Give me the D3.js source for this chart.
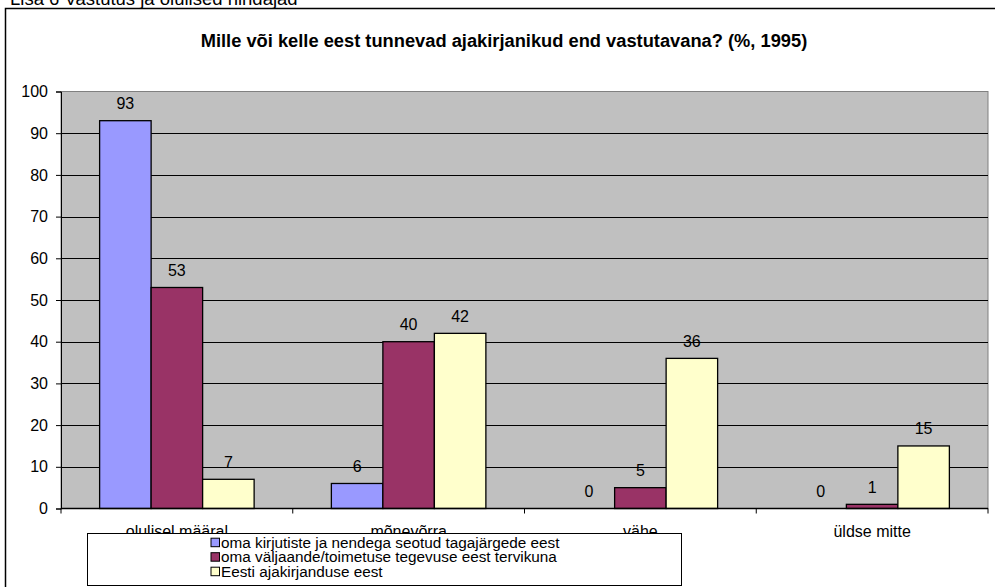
<!DOCTYPE html>
<html>
<head>
<meta charset="utf-8">
<script src="https://cdn.jsdelivr.net/npm/d3@7"></script>
<style>
  html, body { margin: 0; padding: 0; background: #fff; }
  svg { display: block; font-family: Arial, "Liberation Sans", sans-serif; }
</style>
</head>
<body>
<svg id="chart" width="995" height="587"></svg>
<script>
const pageNote = "Lisa 6  Vastutus ja olulised hindajad";
const title = "Mille või kelle eest tunnevad ajakirjanikud end vastutavana? (%, 1995)";
const categories = ["olulisel määral", "mõnevõrra", "vähe", "üldse mitte"];
const seriesNames = [
  "oma kirjutiste ja nendega seotud tagajärgede eest",
  "oma väljaande/toimetuse tegevuse eest tervikuna",
  "Eesti ajakirjanduse eest"
];
const seriesA = [93, 6, 0, 0];
const seriesB = [53, 40, 5, 1];
const seriesC = [7, 42, 36, 15];
const seriesColors = ["#9999FF", "#993366", "#FFFFCC"];
const yTicks = [0, 10, 20, 30, 40, 50, 60, 70, 80, 90, 100];

const seriesValues = [seriesA, seriesB, seriesC];
const svg = d3.select("#chart");
const FONT = "Arial, 'Liberation Sans', sans-serif";

// page note (clipped at top)
svg.append("text").attr("x", 10).attr("y", 5)
  .attr("font-size", 18.5).attr("fill", "#000").text(pageNote);

// outer chart frame
svg.append("rect").attr("x", 5.5).attr("y", 8.5).attr("width", 1000).attr("height", 600)
  .attr("fill", "#fff").attr("stroke", "#000").attr("stroke-width", 1.5);

// title
svg.append("text").attr("x", 504).attr("y", 46.5).attr("text-anchor", "middle")
  .attr("font-size", 18.3).attr("font-weight", "bold").text(title);

const plot = { left: 61, right: 988, top: 91.5, bottom: 508.5 };

const y = d3.scaleLinear().domain([0, 100]).range([plot.bottom, plot.top]);
const x = d3.scaleBand().domain(categories).range([plot.left, plot.right]).paddingInner(0).paddingOuter(0);
const xs = d3.scaleBand().domain(d3.range(seriesNames.length)).range([0, x.bandwidth()])
  .paddingInner(0).paddingOuter(0.75);

// plot area background
svg.append("rect").attr("x", plot.left).attr("y", plot.top)
  .attr("width", plot.right - plot.left).attr("height", plot.bottom - plot.top)
  .attr("fill", "#C0C0C0").attr("stroke", "#808080").attr("stroke-width", 1);

// gridlines
svg.append("g").selectAll("line").data(yTicks.filter(d => d > 0 && d < 100)).join("line")
  .attr("x1", plot.left).attr("x2", plot.right)
  .attr("y1", d => Math.round(y(d)) + 0.5).attr("y2", d => Math.round(y(d)) + 0.5)
  .attr("stroke", "#000").attr("stroke-width", 1);

// y axis
const yAxis = d3.axisLeft(y).tickValues(yTicks).tickSize(5).tickPadding(8);
const gy = svg.append("g").attr("transform", `translate(${plot.left},0)`).call(yAxis);
gy.select(".domain").attr("stroke", "#000");
gy.selectAll(".tick line").attr("stroke", "#000");
gy.selectAll("text").attr("font-size", 16).attr("fill", "#000").attr("font-family", FONT);

// bars
const groups = svg.append("g").selectAll("g").data(categories).join("g")
  .attr("transform", d => `translate(${x(d)},0)`);

seriesValues.forEach((vals, si) => {
  groups.each(function(cat, ci) {
    const v = vals[ci];
    const g = d3.select(this);
    if (v > 0) {
      g.append("rect")
        .attr("x", xs(si)).attr("y", y(v))
        .attr("width", xs.bandwidth()).attr("height", y(0) - y(v))
        .attr("fill", seriesColors[si]).attr("stroke", "#000").attr("stroke-width", 1.3);
    }
    g.append("text")
      .attr("x", xs(si) + xs.bandwidth() / 2).attr("y", y(v) - 11.5)
      .attr("text-anchor", "middle").attr("font-size", 16).attr("fill", "#000")
      .text(v);
  });
});

// x axis
const xTickPos = [plot.left].concat(categories.map(c => x(c) + x.bandwidth()));
svg.append("line").attr("x1", plot.left).attr("x2", plot.right)
  .attr("y1", plot.bottom).attr("y2", plot.bottom).attr("stroke", "#000").attr("stroke-width", 1.3);
svg.append("g").selectAll("line").data(xTickPos).join("line")
  .attr("x1", d => d).attr("x2", d => d)
  .attr("y1", plot.bottom).attr("y2", plot.bottom + 5).attr("stroke", "#000");
svg.append("g").selectAll("text").data(categories).join("text")
  .attr("x", d => x(d) + x.bandwidth() / 2).attr("y", 537)
  .attr("text-anchor", "middle").attr("font-size", 16).attr("fill", "#000")
  .text(d => d);

// legend
const lg = svg.append("g");
lg.append("rect").attr("x", 87.5).attr("y", 533.5).attr("width", 594).attr("height", 52)
  .attr("fill", "#fff").attr("stroke", "#000").attr("stroke-width", 1);
seriesNames.forEach((name, i) => {
  const cy = 542.7 + i * 14.5;
  lg.append("rect").attr("x", 211).attr("y", cy - 4.5).attr("width", 8.5).attr("height", 8.5)
    .attr("fill", seriesColors[i]).attr("stroke", "#000").attr("stroke-width", 1);
  lg.append("text").attr("x", 221).attr("y", cy + 5)
    .attr("font-size", 15.3).attr("fill", "#000").text(name);
});
</script>
</body>
</html>
